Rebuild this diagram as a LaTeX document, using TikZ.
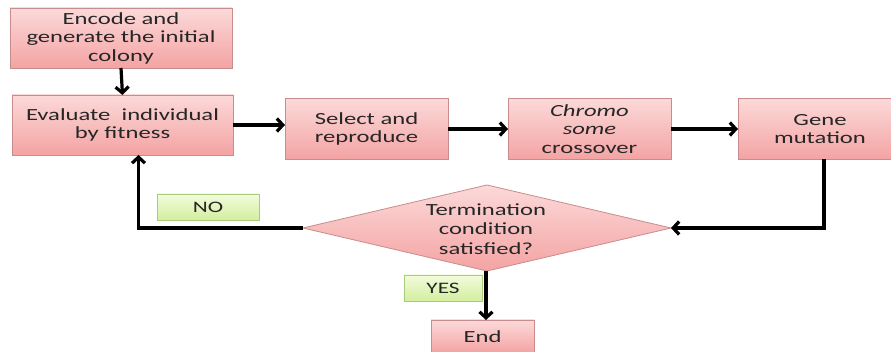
\documentclass[tikz,border=0pt]{standalone}
\usepackage{fontspec}
\setmainfont{Carlito}[FakeStretch=1.45]
\usetikzlibrary{shapes.geometric,arrows.meta}
\definecolor{boxtop}{HTML}{FCD9D9}
\definecolor{boxbot}{HTML}{F4A3A3}
\definecolor{boxline}{HTML}{C98C8C}
\definecolor{tagtop}{HTML}{F3FCDD}
\definecolor{tagbot}{HTML}{D3EE9E}
\definecolor{tagline}{HTML}{A8CC7A}
\definecolor{ink}{HTML}{262626}
\begin{document}
\begin{tikzpicture}[x=1pt,y=-1pt,
    stepbox/.style={draw=boxline, line width=0.8pt, top color=boxtop, bottom color=boxbot,
        align=center, text=ink, inner sep=0pt, outer sep=0pt,
        font=\fontsize{17}{18.5}\selectfont},
    tagbox/.style={draw=tagline, line width=0.8pt, top color=tagtop, bottom color=tagbot,
        text=ink, inner sep=0pt, outer sep=0pt, minimum height=26pt,
        font=\fontsize{16}{18}\selectfont},
    flow/.style={line width=3.2pt, -{Straight Barb[length=6pt,width=13pt]}}]
    \useasboundingbox (0,0) rectangle (891,352);

    % Boxes
    \node[stepbox, minimum width=222pt, minimum height=60pt] (encode) at (121,38)
        {Encode and\\generate the initial\\colony};
    \node[stepbox, minimum width=221pt, minimum height=60pt] (evaluate) at (122.5,125)
        {Evaluate\ \ individual\\by fitness};
    \node[stepbox, minimum width=163pt, minimum height=61pt] (select) at (366.5,129)
        {Select and\\reproduce};
    \node[stepbox, minimum width=163pt, minimum height=61pt] (chromo) at (589.5,129)
        {\textit{Chromo}\\\textit{some}\\crossover};
    \node[stepbox, minimum width=164pt, minimum height=61pt] (gene) at (820,129)
        {Gene\\mutation};

    % Decision
    \node[stepbox, diamond, minimum width=368pt, minimum height=86pt] (cond) at (487,228) {};
    \node[align=center, text=ink, font=\fontsize{17}{19.5}\selectfont] (condtext) at (486,229)
        {Termination\\condition\\satisfied?};

    \node[stepbox, minimum width=103pt, minimum height=33pt] (end) at (482.5,336.5) {End};

    % Labels
    \node[tagbox, minimum width=102pt] (no) at (208,207) {NO};
    \node[tagbox, minimum width=78pt] (yes) at (443,288) {YES};

    % Arrows
    \draw[flow] (encode.south) -- (evaluate.north);
    \draw[flow] (evaluate.east) -- (evaluate.east -| select.west);
    \draw[flow] (select.east) -- (chromo.west);
    \draw[flow] (chromo.east) -- (gene.west);
    \draw[flow] ([xshift=4pt]gene.south) |- (cond.east);
    \draw[flow] (cond.west) -| ([xshift=16pt]evaluate.south);
    \draw[flow] ([xshift=-1pt]cond.south) -- ([xshift=-1pt]cond.south |- end.north);
\end{tikzpicture}
\end{document}
